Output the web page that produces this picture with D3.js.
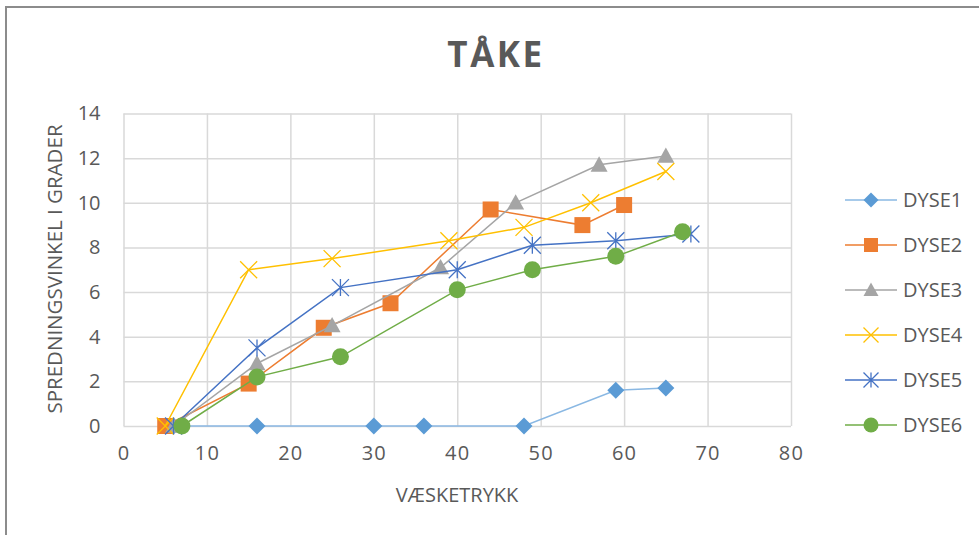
<!DOCTYPE html>
<html>
<head>
<meta charset="utf-8">
<script src="https://cdn.jsdelivr.net/npm/d3@7"></script>
<style>
  html, body { margin: 0; padding: 0; background: #fff; }
  svg { display: block; }
  text { font-family: "Open Sans", "Liberation Sans", sans-serif; fill: #595959; }
</style>
</head>
<body>
<svg id="chart" width="979" height="535"></svg>
<script>
// Spray angle vs. liquid pressure for six nozzles
const seriesNames = ["DYSE1", "DYSE2", "DYSE3", "DYSE4", "DYSE5", "DYSE6"];

const dyse1X = [6, 16, 30, 36, 48, 59, 65];
const dyse1Y = [0, 0, 0, 0, 0, 1.6, 1.7];

const dyse2X = [5, 15, 24, 32, 44, 55, 60];
const dyse2Y = [0, 1.9, 4.4, 5.5, 9.7, 9.0, 9.9];

const dyse3X = [6, 16, 25, 38, 47, 57, 65];
const dyse3Y = [0, 2.8, 4.5, 7.1, 10.0, 11.7, 12.1];

const dyse4X = [5, 15, 25, 39, 48, 56, 65];
const dyse4Y = [0, 7.0, 7.5, 8.3, 8.9, 10.0, 11.4];

const dyse5X = [6, 16, 26, 40, 49, 59, 68];
const dyse5Y = [0, 3.5, 6.2, 7.0, 8.1, 8.3, 8.6];

const dyse6X = [7, 16, 26, 40, 49, 59, 67];
const dyse6Y = [0, 2.2, 3.1, 6.1, 7.0, 7.6, 8.7];

const xTicks = [0, 10, 20, 30, 40, 50, 60, 70, 80];
const yTicks = [0, 2, 4, 6, 8, 10, 12, 14];

const colors = ["#5B9BD5", "#ED7D31", "#A5A5A5", "#FFC000", "#4472C4", "#70AD47"];
const lineColors = ["#8AB8E3", "#ED7D31", "#A5A5A5", "#FFC000", "#4472C4", "#70AD47"];
const markers = ["diamond", "square", "triangle", "x", "asterisk", "circle"];

const xs = [dyse1X, dyse2X, dyse3X, dyse4X, dyse5X, dyse6X];
const ys = [dyse1Y, dyse2Y, dyse3Y, dyse4Y, dyse5Y, dyse6Y];
const series = seriesNames.map((name, i) => ({
  name, color: colors[i], lineColor: lineColors[i], marker: markers[i],
  points: xs[i].map((x, j) => ({ x, y: ys[i][j] }))
}));

const svg = d3.select("#chart");

// outer chart frame
svg.append("path")
  .attr("d", "M6,535 V7 H979")
  .attr("fill", "none")
  .attr("stroke", "#8C8C8C")
  .attr("stroke-width", 2);

const plot = { left: 123.5, right: 791, top: 113.5, bottom: 426 };

const x = d3.scaleLinear().domain([0, 80]).range([plot.left, plot.right]);
const y = d3.scaleLinear().domain([0, 14]).range([plot.bottom, plot.top]);

// gridlines
const grid = svg.append("g");
grid.append("g")
  .attr("transform", `translate(0,${plot.bottom})`)
  .call(d3.axisBottom(x).tickValues(xTicks).tickSize(-(plot.bottom - plot.top)).tickFormat(""))
  .call(g => g.select(".domain").remove())
  .call(g => g.selectAll("line").attr("stroke", "#D9D9D9").attr("stroke-width", 1.5));
grid.append("g")
  .attr("transform", `translate(${plot.left},0)`)
  .call(d3.axisLeft(y).tickValues(yTicks).tickSize(-(plot.right - plot.left)).tickFormat(""))
  .call(g => g.select(".domain").remove())
  .call(g => g.selectAll("line").attr("stroke", "#D9D9D9").attr("stroke-width", 1.5));

// tick labels
svg.append("g")
  .attr("transform", `translate(0,${plot.bottom})`)
  .call(d3.axisBottom(x).tickValues(xTicks).tickSize(0).tickPadding(20))
  .call(g => g.select(".domain").remove())
  .call(g => g.selectAll("text")
    .attr("font-family", "'Open Sans', sans-serif")
    .attr("font-size", 20).attr("fill", "#595959").attr("letter-spacing", 1.2));

svg.append("g")
  .attr("transform", `translate(${plot.left},0)`)
  .call(d3.axisLeft(y).tickValues(yTicks).tickSize(0).tickPadding(23))
  .call(g => g.select(".domain").remove())
  .call(g => g.selectAll("text")
    .attr("font-family", "'Open Sans', sans-serif")
    .attr("font-size", 20).attr("fill", "#595959"));

// title
svg.append("text")
  .attr("x", 496).attr("y", 67)
  .attr("text-anchor", "middle")
  .attr("font-size", 35).attr("font-weight", "bold")
  .attr("letter-spacing", 2.5)
  .text("TÅKE");

// axis titles
svg.append("text")
  .attr("x", 457).attr("y", 502)
  .attr("text-anchor", "middle")
  .attr("font-size", 20)
  .text("VÆSKETRYKK");

svg.append("text")
  .attr("transform", "translate(62,269) rotate(-90)")
  .attr("text-anchor", "middle")
  .attr("font-size", 20.5)
  .text("SPREDNINGSVINKEL I GRADER");

// marker drawing
function drawMarker(g, type, color, s) {
  const h = s / 2;
  switch (type) {
    case "diamond":
      g.append("path").attr("d", `M0,${-h}L${h},0L0,${h}L${-h},0Z`).attr("fill", color);
      break;
    case "square":
      g.append("rect").attr("x", -h + 0.5).attr("y", -h + 0.5).attr("width", s - 1).attr("height", s - 1).attr("fill", color);
      break;
    case "triangle":
      g.append("path").attr("d", `M0,${-h}L${h},${h * 0.8}L${-h},${h * 0.8}Z`).attr("fill", color);
      break;
    case "x":
      g.append("path").attr("d", `M${-h},${-h}L${h},${h}M${h},${-h}L${-h},${h}`)
        .attr("stroke", color).attr("stroke-width", 1.3).attr("fill", "none");
      break;
    case "asterisk":
      g.append("path").attr("d", `M${-h},${-h}L${h},${h}M${h},${-h}L${-h},${h}M0,${-h}L0,${h}`)
        .attr("stroke", color).attr("stroke-width", 1.3).attr("fill", "none");
      break;
    case "circle":
      g.append("circle").attr("r", h).attr("fill", color);
      break;
  }
}

const line = d3.line().x(d => x(d.x)).y(d => y(d.y));

series.forEach(s => {
  const g = svg.append("g");
  g.append("path")
    .datum(s.points)
    .attr("d", line)
    .attr("fill", "none")
    .attr("stroke", s.lineColor)
    .attr("stroke-width", 1.5);
  s.points.forEach(p => {
    const m = g.append("g").attr("transform", `translate(${x(p.x)},${y(p.y)})`);
    drawMarker(m, s.marker, s.color, 17);
  });
});

// legend
const legend = svg.append("g");
series.forEach((s, i) => {
  const ly = 200 + i * 45;
  const item = legend.append("g").attr("transform", `translate(0,${ly})`);
  item.append("line")
    .attr("x1", 845).attr("x2", 897).attr("y1", 0).attr("y2", 0)
    .attr("stroke", s.lineColor).attr("stroke-width", 1.5);
  const m = item.append("g").attr("transform", "translate(871,0)");
  drawMarker(m, s.marker, s.color, 15);
  item.append("text")
    .attr("x", 903).attr("y", 7)
    .attr("font-size", 20)
    .text(s.name);
});
</script>
</body>
</html>
